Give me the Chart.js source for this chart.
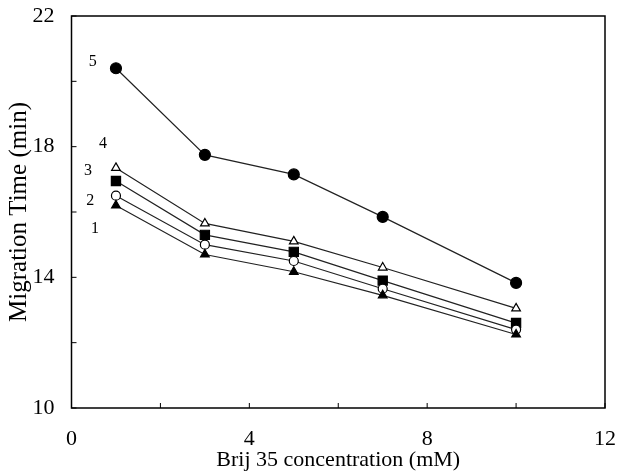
<!DOCTYPE html>
<html>
<head>
<meta charset="utf-8">
<script src="https://cdn.jsdelivr.net/npm/chart.js@4.4.0/dist/chart.umd.min.js"></script>
<style>
  html, body { margin: 0; padding: 0; background: #fff; }
  #wrap { width: 617px; height: 475px; }
</style>
</head>
<body>
<div id="wrap"><canvas id="chart" width="617" height="475"></canvas></div>
<script>
// Brij 35 concentration (mM)
const concentrations = [1, 3, 5, 7, 10];

// migration times (min), one array per curve
const curve1 = [16.2, 14.7, 14.17, 13.45, 12.25];
const curve2 = [16.5, 15.0, 14.5, 13.65, 12.4];
const curve3 = [16.95, 15.3, 14.78, 13.9, 12.6];
const curve4 = [17.35, 15.65, 15.1, 14.3, 13.05];
const curve5 = [20.4, 17.75, 17.15, 15.85, 13.83];

const xTickLabels = [0, 4, 8, 12];
const yTickLabels = [10, 14, 18, 22];

// curve numbers written next to the first points
const curveLabels = ['1', '2', '3', '4', '5'];
const curveLabelX = [0.53, 0.42, 0.37, 0.71, 0.48];
const curveLabelY = [15.5, 16.35, 17.25, 18.1, 20.6];

const FONT = '"Liberation Serif", "Times New Roman", serif';

function toPoints(ys) {
  return concentrations.map((x, i) => ({ x: x, y: ys[i] }));
}

function series(label, ys, style, radius, filled) {
  return {
    label: label,
    data: toPoints(ys),
    borderColor: '#222',
    borderWidth: 1.2,
    pointStyle: style,
    pointRadius: radius,
    pointBorderWidth: 1.2,
    pointBorderColor: '#000',
    pointBackgroundColor: filled ? '#000' : '#fff',
    tension: 0
  };
}

// inward tick marks + box frame + curve numbers
const framePlugin = {
  id: 'frame',
  afterDatasetsDraw(chart) {
    const { ctx, chartArea: a, scales } = chart;
    ctx.save();
    ctx.strokeStyle = '#000';
    ctx.lineWidth = 1.5;
    ctx.strokeRect(a.left, a.top, a.right - a.left, a.bottom - a.top);

    ctx.lineWidth = 1;
    scales.x.ticks.forEach(t => {
      const px = scales.x.getPixelForValue(t.value);
      ctx.beginPath();
      ctx.moveTo(px, a.bottom);
      ctx.lineTo(px, a.bottom - 5);
      ctx.stroke();
    });
    scales.y.ticks.forEach(t => {
      const py = scales.y.getPixelForValue(t.value);
      ctx.beginPath();
      ctx.moveTo(a.left, py);
      ctx.lineTo(a.left + 5, py);
      ctx.stroke();
    });

    ctx.fillStyle = '#000';
    ctx.font = '16px ' + FONT;
    ctx.textAlign = 'center';
    ctx.textBaseline = 'middle';
    curveLabels.forEach((txt, i) => {
      ctx.fillText(txt, scales.x.getPixelForValue(curveLabelX[i]), scales.y.getPixelForValue(curveLabelY[i]));
    });
    ctx.restore();
  }
};

new Chart(document.getElementById('chart'), {
  type: 'line',
  data: {
    datasets: [
      series('1', curve1, 'triangle', 5, true),
      series('2', curve2, 'circle', 4.5, false),
      series('3', curve3, 'rect', 6.5, true),
      series('4', curve4, 'triangle', 5, false),
      series('5', curve5, 'circle', 5.5, true)
    ]
  },
  options: {
    responsive: false,
    animation: false,
    layout: { padding: { top: 16, right: 12, left: 0, bottom: 0 } },
    plugins: {
      legend: { display: false },
      tooltip: { enabled: false }
    },
    scales: {
      x: {
        type: 'linear',
        min: 0,
        max: 12,
        afterFit(scale) {
          scale.height = 67;
          scale.paddingLeft = 0;
          scale.paddingRight = 0;
        },
        grid: { display: false },
        border: { display: false },
        ticks: {
          stepSize: 2,
          autoSkip: false,
          maxRotation: 0,
          color: '#000',
          padding: 10,
          font: { family: FONT, size: 22 },
          callback: v => xTickLabels.includes(v) ? String(v) : ''
        },
        title: {
          display: true,
          text: 'Brij 35 concentration (mM)',
          color: '#000',
          padding: { top: 0, bottom: 2 },
          font: { family: FONT, size: 22 }
        }
      },
      y: {
        type: 'linear',
        min: 10,
        max: 22,
        afterFit(scale) {
          scale.width = 71.5;
          scale.paddingTop = 0;
          scale.paddingBottom = 0;
        },
        grid: { display: false },
        border: { display: false },
        ticks: {
          stepSize: 2,
          autoSkip: false,
          color: '#000',
          padding: 9,
          font: { family: FONT, size: 22 },
          callback: v => yTickLabels.includes(v) ? String(v) : ''
        },
        title: {
          display: true,
          text: 'Migration Time (min)',
          color: '#000',
          padding: { bottom: 0 },
          font: { family: FONT, size: 25 }
        }
      }
    }
  },
  plugins: [framePlugin]
});
</script>
</body>
</html>
